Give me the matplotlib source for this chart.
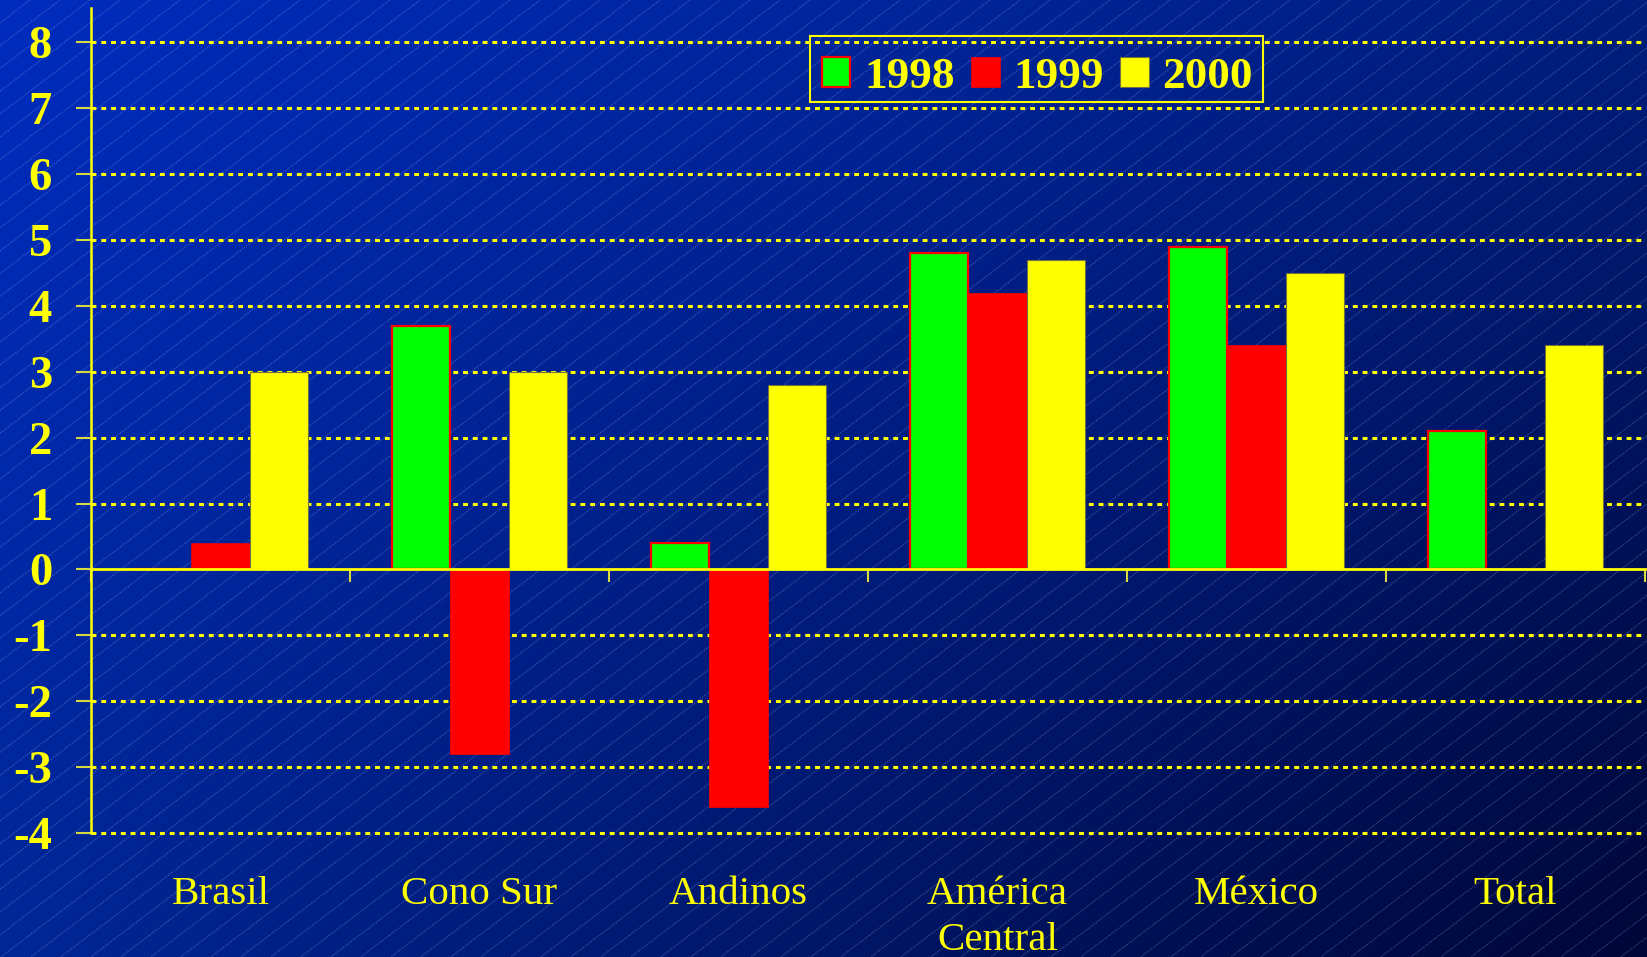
import numpy as np
import matplotlib
matplotlib.use("Agg")
import matplotlib.pyplot as plt
from matplotlib.patches import Rectangle
from matplotlib.transforms import blended_transform_factory

# --- data -------------------------------------------------------------
categories = ["Brasil", "Cono Sur", "Andinos", "América\nCentral", "México", "Total"]
years = ["1998", "1999", "2000"]
v1998 = [0.0, 3.7, 0.4, 4.8, 4.9, 2.1]
v1999 = [0.4, -2.8, -3.6, 4.2, 3.4, 0.0]
v2000 = [3.0, 3.0, 2.8, 4.7, 4.5, 3.4]
yticks = list(range(-4, 9))

# --- style ------------------------------------------------------------
YELLOW = "#FFFF00"
GREEN = "#00FF00"
RED = "#FF0000"
SERIF = ["Liberation Serif", "DejaVu Serif"]

W, H = 1647, 957
fig = plt.figure(figsize=(W / 100, H / 100), dpi=100)

# background: diagonal blue gradient with thin light diagonal lines
bg = fig.add_axes([0, 0, 1, 1], zorder=-10)
bg.set_axis_off()
ny, nx = 200, 340
u = np.linspace(0, 1, nx)[None, :, None]
v = np.linspace(0, 1, ny)[:, None, None]
tl = np.array([0, 44, 190]) / 255
tr = np.array([0, 30, 125]) / 255
bl = np.array([0, 38, 150]) / 255
br = np.array([0, 6, 55]) / 255
img = (1 - u) * (1 - v) * tl + u * (1 - v) * tr + (1 - u) * v * bl + u * v * br
bg.imshow(img, extent=(0, W, H, 0), aspect="auto", interpolation="bilinear")
slope = 0.76
for c in np.arange(0, H + slope * W + 30, 22.8):
    xs = np.array([0, W])
    bg.plot(xs, c - slope * xs, color=(0.62, 0.68, 0.92), alpha=0.38,
            lw=0.7, ls=(0, (1.5, 1.0)))
bg.set_xlim(0, W)
bg.set_ylim(H, 0)

# --- main axes --------------------------------------------------------
left, right, top, bottom = 91, 1645, 8, 833
ax = fig.add_axes([left / W, 1 - bottom / H, (right - left) / W, (bottom - top) / H])
ax.patch.set_visible(False)
ax.set_xlim(0, 6)
ax.set_ylim(-4, 8.52)

x = np.arange(len(categories)) + 0.5
w = 0.224
ax.bar(x - w, v1998, w, color=GREEN, edgecolor=RED, linewidth=1.6, zorder=3, label=years[0])
ax.bar(x, v1999, w, color=RED, edgecolor=RED, linewidth=0.5, zorder=3, label=years[1])
ax.bar(x + w, v2000, w, color=YELLOW, edgecolor="#707040", linewidth=0.8, zorder=3, label=years[2])

# dotted horizontal grid
for yv in yticks:
    if yv != 0:
        ax.axhline(yv, color=YELLOW, lw=2.2, ls=(0, (1.6, 1.6)), zorder=1, clip_on=False)

# spines
for s in ("top", "right"):
    ax.spines[s].set_visible(False)
ax.spines["left"].set_color(YELLOW)
ax.spines["left"].set_linewidth(1.8)
ax.spines["bottom"].set_position(("data", 0))
ax.spines["bottom"].set_color(YELLOW)
ax.spines["bottom"].set_linewidth(2.0)
ax.spines["bottom"].set_zorder(5)

# y ticks
ax.set_yticks(yticks)
ax.set_yticklabels([str(t) for t in yticks], fontfamily=SERIF, fontweight="bold",
                   fontsize=33.5, color=YELLOW)
ax.tick_params(axis="y", direction="out", length=11, width=1.5, color="#D8D840", pad=17)

# x ticks at category boundaries, labels below the plot
ax.set_xticks(np.arange(0, 7))
ax.set_xticklabels([])
ax.tick_params(axis="x", direction="out", length=9, width=1.5, color="#D8D840")

trans = blended_transform_factory(ax.transData, ax.transAxes)
for xi, name in zip(x, categories):
    ax.text(xi, -0.052, name, transform=trans, ha="center", va="top",
            fontfamily=SERIF, fontsize=29.5, color=YELLOW, linespacing=1.34)

# legend (frame drawn separately as a rectangle)
leg = fig.legend(loc="center left", bbox_to_anchor=(822 / W, 1 - 77 / H), ncol=3,
                 prop={"family": SERIF, "weight": "bold", "size": 32.5},
                 frameon=False, borderaxespad=0, borderpad=0,
                 handlelength=0.63, handleheight=0.64, handletextpad=0.3,
                 columnspacing=0.37)
for t in leg.get_texts():
    t.set_color(YELLOW)
fig.patches.append(Rectangle((810 / W, 1 - 102 / H), (1263 - 810) / W, 66 / H,
                             transform=fig.transFigure, facecolor="none",
                             edgecolor=YELLOW, linewidth=1.5))

fig.savefig("out.png", dpi=100)
